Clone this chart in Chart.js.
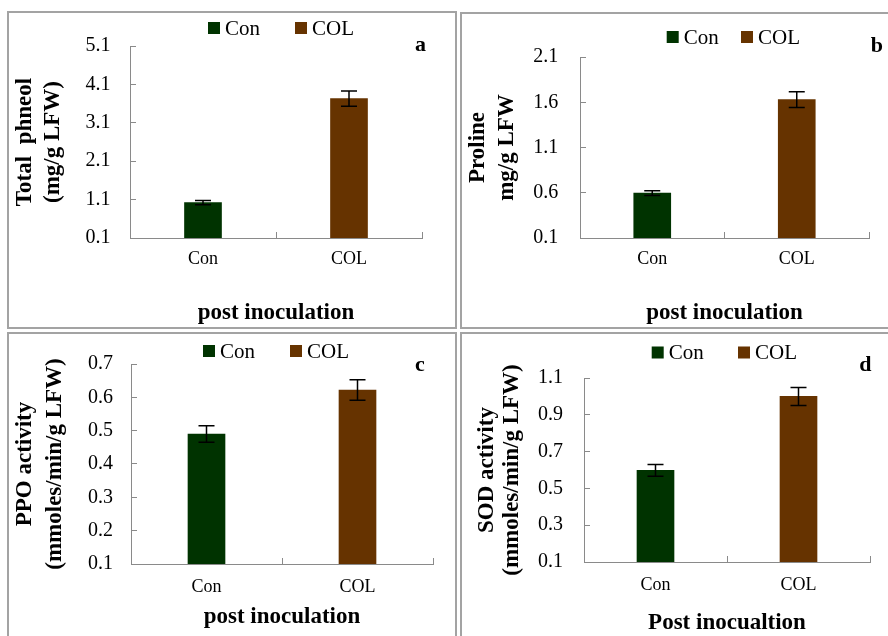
<!DOCTYPE html>
<html>
<head>
<meta charset="utf-8">
<script src="https://cdn.jsdelivr.net/npm/chart.js@4.4.1/dist/chart.umd.min.js"></script>
<style>
html,body{margin:0;padding:0;width:888px;height:636px;overflow:hidden;background:#fff;}
.panel{position:absolute;box-sizing:border-box;border:2px solid #a3a3a3;overflow:hidden;}
.panel canvas{display:block;}
</style>
</head>
<body>
<div class="panel" style="left:7px;top:11px;width:450px;height:318px"><canvas id="ca" width="446" height="314"></canvas></div>
<div class="panel" style="left:460px;top:12px;width:440px;height:317px"><canvas id="cb" width="436" height="313"></canvas></div>
<div class="panel" style="left:7px;top:332px;width:450px;height:320px"><canvas id="cc" width="446" height="316"></canvas></div>
<div class="panel" style="left:460px;top:332px;width:440px;height:320px"><canvas id="cd" width="436" height="316"></canvas></div>
<script>
// ---- data ----
const categories = ['Con', 'COL'];
const seriesNames = ['Con', 'COL'];
const seriesColors = ['#003300', '#663300'];

const phenolValues = [1.02, 3.73];
const phenolErrors = [0.055, 0.2];
const phenolTicks = [0.1, 1.1, 2.1, 3.1, 4.1, 5.1];

const prolineValues = [0.596, 1.63];
const prolineErrors = [0.027, 0.087];
const prolineTicks = [0.1, 0.6, 1.1, 1.6, 2.1];

const ppoValues = [0.49, 0.622];
const ppoErrors = [0.025, 0.031];
const ppoTicks = [0.1, 0.2, 0.3, 0.4, 0.5, 0.6, 0.7];

const sodValues = [0.598, 1.0];
const sodErrors = [0.032, 0.049];
const sodTicks = [0.1, 0.3, 0.5, 0.7, 0.9, 1.1];

// ---- rendering ----
const FAMILY = '"Liberation Serif", "Times New Roman", serif';
const AXIS = '#8a8a8a';
Chart.defaults.font.family = FAMILY;
Chart.defaults.color = '#000';

const decorPlugin = {
  id: 'decor',
  afterDatasetsDraw(chart) {
    const ctx = chart.ctx;
    const y = chart.scales.y;
    ctx.save();
    ctx.strokeStyle = '#000';
    ctx.lineWidth = 1.5;
    chart.data.datasets.forEach((ds, di) => {
      const meta = chart.getDatasetMeta(di);
      ds.data.forEach((v, i) => {
        const e = ds.errorBars[i];
        if (v == null || e == null) return;
        const x = meta.data[i].x;
        const y1 = y.getPixelForValue(v + e);
        const y2 = y.getPixelForValue(v - e);
        const hw = 8;
        ctx.beginPath();
        ctx.moveTo(x, y1); ctx.lineTo(x, y2);
        ctx.moveTo(x - hw, y1); ctx.lineTo(x + hw, y1);
        ctx.moveTo(x - hw, y2); ctx.lineTo(x + hw, y2);
        ctx.stroke();
      });
    });
    ctx.restore();
  },
  afterDraw(chart, args, opts) {
    const ctx = chart.ctx;
    ctx.save();
    ctx.font = '21px ' + FAMILY;
    ctx.textBaseline = 'middle';
    ctx.textAlign = 'left';
    chart.data.datasets.forEach((ds, i) => {
      const x = opts.legendX[i];
      ctx.fillStyle = ds.backgroundColor;
      ctx.fillRect(x, opts.legendY - 6, 12, 12);
      ctx.fillStyle = '#000';
      ctx.fillText(ds.label, x + 17, opts.legendY + 1);
    });
    ctx.font = 'bold 22px ' + FAMILY;
    ctx.textBaseline = 'alphabetic';
    ctx.fillText(opts.letter, opts.letterX, opts.letterY);
    ctx.restore();
  }
};

function makeChart(id, values, errors, ticks, yTitle, xTitle, L) {
  const datasets = seriesNames.map((name, si) => ({
    label: name,
    data: categories.map((c, ci) => ci === si ? values[ci] : null),
    errorBars: categories.map((c, ci) => ci === si ? errors[ci] : null),
    backgroundColor: seriesColors[si],
    borderWidth: 0,
    barThickness: 37,
    skipNull: true
  }));
  return new Chart(document.getElementById(id), {
    type: 'bar',
    data: { labels: categories, datasets },
    plugins: [decorPlugin],
    options: {
      responsive: false,
      animation: false,
      devicePixelRatio: 1,
      layout: { padding: { left: 0, top: L.top, right: L.right, bottom: 0 } },
      plugins: {
        legend: { display: false },
        tooltip: { enabled: false },
        decor: { legendX: L.legendX, legendY: L.legendY, letter: L.letter, letterX: L.letterX, letterY: L.letterY }
      },
      scales: {
        x: {
          offset: true,
          grid: { offset: true, drawOnChartArea: false, drawTicks: true, tickLength: -6, color: AXIS, lineWidth: 1 },
          border: { display: true, color: AXIS, width: 1 },
          ticks: { font: { size: 18 }, color: '#000', padding: L.xTickPad, maxRotation: 0, autoSkip: false },
          title: { display: true, text: xTitle, color: '#000', font: { size: 23, weight: 'bold' }, padding: { top: 0, bottom: L.xTitlePad } },
          afterFit: s => { s.height = L.xH; s.paddingLeft = 0; s.paddingRight = 0; }
        },
        y: {
          min: ticks[0],
          max: ticks[ticks.length - 1],
          afterBuildTicks: s => { s.ticks = ticks.map(v => ({ value: v })); },
          grid: { drawOnChartArea: false, drawTicks: true, tickLength: -6, color: AXIS, lineWidth: 1 },
          border: { display: true, color: AXIS, width: 1 },
          ticks: { font: { size: 20 }, color: '#000', padding: L.yTickPad, callback: v => Number(v).toFixed(1) },
          title: { display: true, text: yTitle, color: '#000', font: { size: 23, weight: 'bold', lineHeight: L.yTitleLH + 'px' }, padding: { top: L.yTitlePad, bottom: 0 } },
          afterFit: s => { s.width = L.yW; s.paddingTop = 0; s.paddingBottom = 0; }
        }
      }
    }
  });
}

function build() {
  makeChart('ca', phenolValues, phenolErrors, phenolTicks, ['Total  phneol', '(mg/g LFW)'], 'post inoculation',
    { top: 33, right: 33, yW: 121, xH: 89, xTickPad: 16, xTitlePad: 0, yTickPad: 25.5, yTitleLH: 28, yTitlePad: 2,
      legendX: [199, 286], legendY: 15, letter: 'a', letterX: 406, letterY: 38 });
  makeChart('cb', prolineValues, prolineErrors, prolineTicks, ['Proline', 'mg/g LFW'], 'post inoculation',
    { top: 43, right: 29, yW: 118, xH: 89, xTickPad: 16, xTitlePad: 0, yTickPad: 27.7, yTitleLH: 29, yTitlePad: 1.5,
      legendX: [204.7, 279], legendY: 23, letter: 'b', letterX: 408.7, letterY: 37.7 });
  makeChart('cc', ppoValues, ppoErrors, ppoTicks, ['PPO activity', '(mmoles/min/g LFW)'], 'post inoculation',
    { top: 30, right: 22, yW: 122, xH: 86, xTickPad: 18, xTitlePad: 19, yTickPad: 24, yTitleLH: 30, yTitlePad: 1,
      legendX: [194, 281], legendY: 17, letter: 'c', letterX: 406, letterY: 36.7 });
  makeChart('cd', sodValues, sodErrors, sodTicks, ['SOD activity', '(mmoles/min/g LFW)'], 'Post inocualtion',
    { top: 44, right: 28, yW: 122, xH: 88, xTickPad: 18, xTitlePad: 13, yTickPad: 27, yTitleLH: 25, yTitlePad: 12.5,
      legendX: [189.7, 276], legendY: 18.5, letter: 'd', letterX: 397.3, letterY: 36.7 });
}

if (document.fonts && document.fonts.load) {
  Promise.all([
    document.fonts.load('20px "Liberation Serif"'),
    document.fonts.load('bold 23px "Liberation Serif"')
  ]).then(build, build);
} else {
  build();
}
</script>
</body>
</html>
